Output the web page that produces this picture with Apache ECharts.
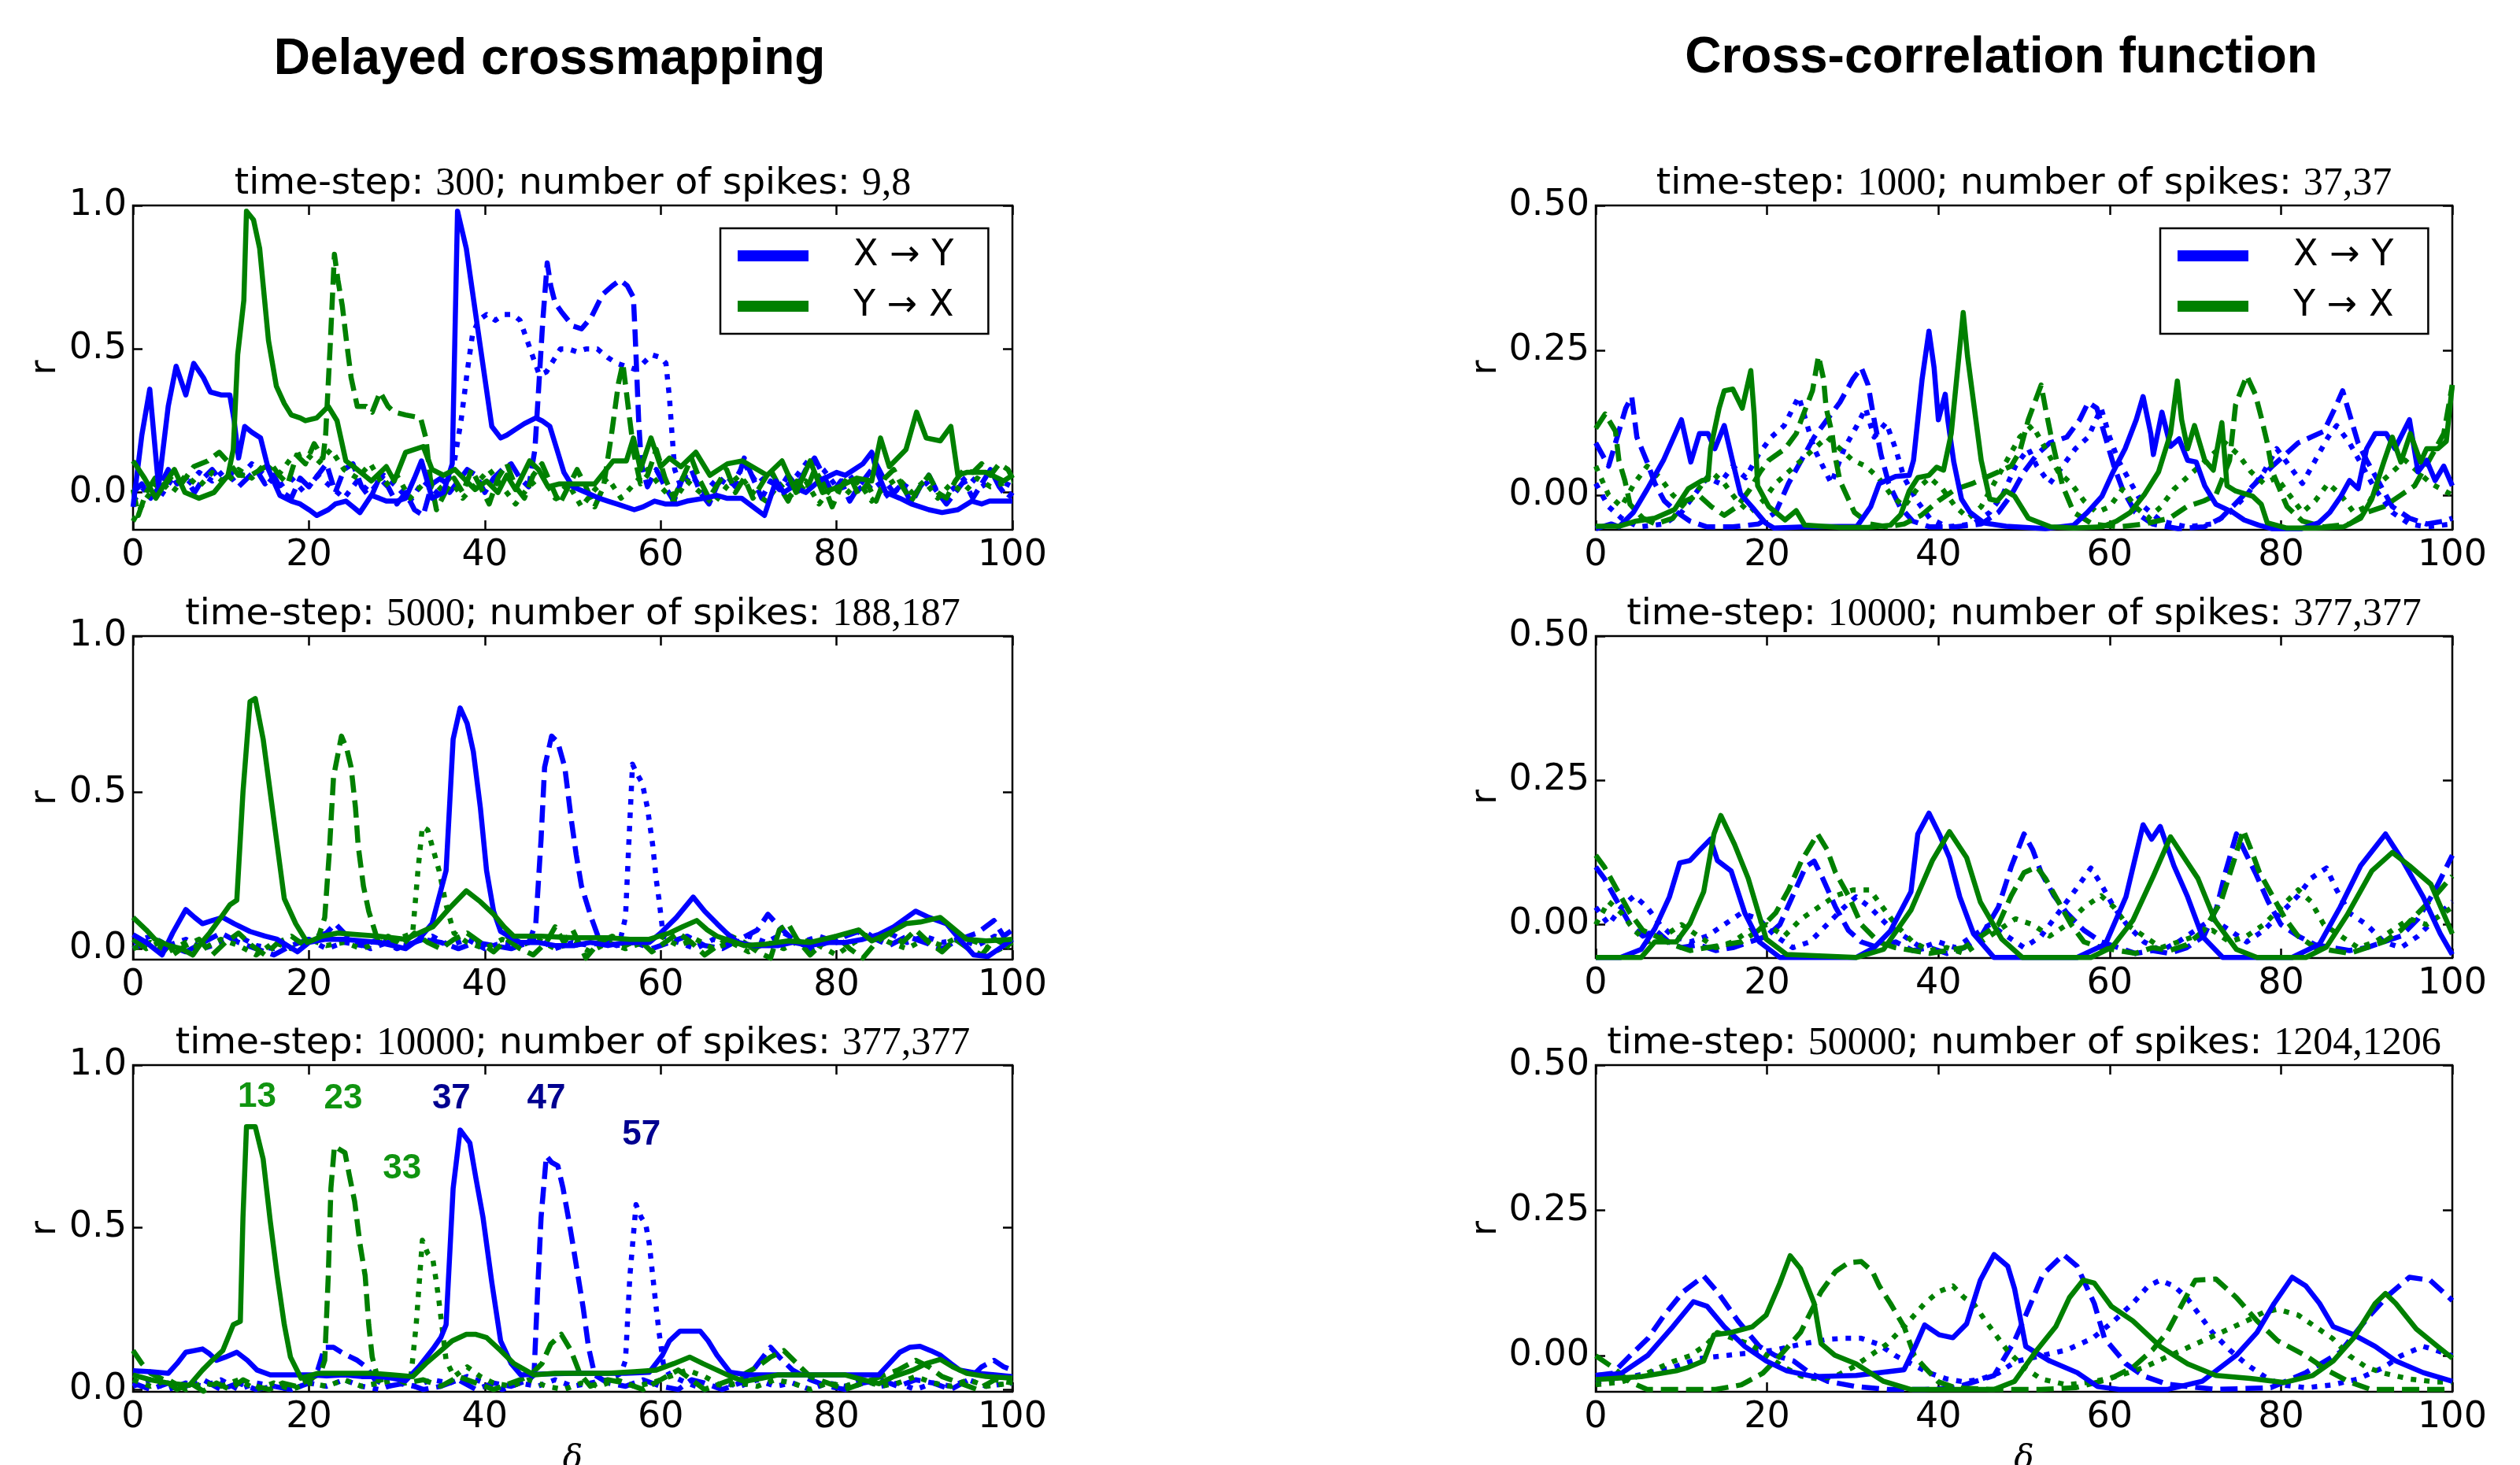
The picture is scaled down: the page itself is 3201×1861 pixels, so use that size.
<!DOCTYPE html>
<html lang="en">
<head>
<meta charset="UTF-8">
<title>Delayed crossmapping vs cross-correlation</title>
<script src="https://cdn.jsdelivr.net/npm/echarts@6/dist/echarts.min.js"></script>
<style>
  html, body { margin: 0; padding: 0; background: #fff; }
  #chart { width: 3201px; height: 1861px; }
</style>
</head>
<body>
<div id="chart"></div>
<script>
// ---- data: [lag, r] pairs ----
// left column: delayed crossmapping, time-step 300
const cm300XyS = [[0,-0.05],[1,0.2],[1.9,0.36],[2.9,0.02],[4,0.3],[4.9,0.44],[6,0.34],[6.9,0.45],[8,0.4],[8.8,0.35],[10,0.34],[11,0.34],[11.5,0.25],[12,0.12],[12.7,0.23],[13.5,0.21],[14.5,0.19],[15.4,0.08],[16.7,-0.01],[18,-0.03],[19,-0.04],[20,-0.06],[20.9,-0.08],[22.2,-0.06],[23,-0.04],[24.2,-0.03],[25,-0.05],[25.8,-0.07],[27.1,-0.01],[28,-0.02],[28.8,-0.03],[30,-0.03],[31,-0.02],[32,0.05],[32.8,0.11],[34,-0.02],[35.3,0.0],[36.3,0.1],[36.9,0.98],[37.9,0.85],[39.2,0.57],[40.8,0.23],[41.8,0.19],[42.5,0.2],[43.5,0.22],[44.5,0.24],[45.8,0.26],[46.5,0.25],[47.4,0.23],[48.2,0.15],[49,0.07],[50,0.02],[51.5,0.0],[53,-0.02],[54,-0.03],[55,-0.04],[57,-0.06],[58,-0.05],[59.3,-0.03],[60.5,-0.04],[61.9,-0.04],[63,-0.03],[65,-0.02],[66.4,-0.01],[67.5,-0.02],[69.2,-0.02],[70.5,-0.05],[71.8,-0.08],[73.1,0.04],[74,0.0],[75,0.02],[76.5,0.0],[78,0.04],[80,0.07],[81,0.06],[82,0.08],[83,0.1],[84,0.14],[84.5,0.08],[85.6,0.0],[87.2,-0.02],[88.5,-0.04],[90.5,-0.06],[92,-0.07],[93.8,-0.06],[95.4,-0.03],[96.5,-0.04],[97.4,-0.03],[100,-0.03]];
const cm300XyD = [[0,0.0],[1,0.03],[2,-0.02],[3,0.02],[4,0.08],[5,0.03],[6,0.05],[7,0.0],[8,0.05],[9,0.08],[10,0.04],[11,0.06],[12,0.02],[13,0.05],[14,0.08],[15,0.03],[16,0.06],[17,0.0],[18,-0.02],[19,0.05],[20,0.02],[21,0.06],[22,0.1],[23,0.0],[24,0.08],[25,0.1],[26,0.02],[27,-0.02],[28,0.05],[29,0.02],[30,-0.04],[31,0.0],[32,-0.06],[33,-0.08],[34,0.03],[35,0.05],[36,0.0],[37,0.04],[38,0.08],[39,0.06],[40,0.0],[41,0.05],[42,0.08],[43,0.1],[44,0.05],[45,0.02],[45.7,0.15],[46.2,0.4],[46.6,0.6],[47.1,0.8],[47.5,0.72],[48,0.66],[48.7,0.63],[50,0.58],[51,0.57],[52.1,0.61],[53.4,0.69],[54.5,0.72],[55.4,0.74],[56.2,0.72],[56.9,0.68],[57.1,0.55],[57.3,0.4],[57.5,0.25],[57.8,0.1],[58.5,0.02],[59.5,0.08],[60.5,0.02],[61.5,-0.03],[62.5,0.05],[63.5,0.08],[64.5,0.0],[65.5,-0.04],[66.5,0.03],[67.5,0.06],[68.5,0.02],[69.5,0.12],[70.5,0.05],[71.5,-0.02],[72.5,0.04],[73.5,0.01],[74.5,0.06],[75.5,0.02],[76.5,0.08],[77.5,0.12],[78.5,0.06],[79.5,0.0],[80.5,0.04],[81.5,-0.03],[82.5,0.02],[83.5,0.06],[84.5,0.1],[85.5,0.04],[86.5,0.0],[87.5,0.03],[88.5,-0.04],[89.5,0.02],[90.5,0.06],[91.5,0.0],[92.5,-0.04],[93.5,0.0],[94.5,0.04],[95.5,-0.02],[96.5,0.03],[97.5,0.08],[98.5,0.02],[99.5,-0.02],[100,0.0]];
const cm300XyT = [[0,-0.03],[1.5,0.02],[3,-0.02],[4.5,0.05],[6,0.02],[7.5,0.07],[9,0.04],[10.5,0.08],[12,0.05],[13.5,0.1],[15,0.06],[16.5,0.02],[18,0.05],[19.5,0.0],[21,0.06],[22.5,0.02],[24,-0.02],[25.5,0.04],[27,0.0],[28.5,0.06],[30,0.02],[31.5,-0.03],[33,0.04],[34.5,0.0],[35.8,0.05],[36.5,0.1],[37.3,0.25],[38,0.42],[38.6,0.55],[39.3,0.6],[40.2,0.62],[41.2,0.6],[42.2,0.62],[43.2,0.62],[44,0.6],[44.7,0.54],[45.5,0.47],[46.2,0.41],[47,0.42],[47.8,0.46],[48.6,0.5],[49.5,0.5],[50.5,0.49],[51.5,0.5],[52.8,0.5],[54,0.47],[55,0.45],[56,0.44],[57,0.43],[58,0.45],[59,0.48],[60,0.47],[60.6,0.45],[61,0.33],[61.3,0.2],[61.6,0.08],[62.3,0.02],[63.5,0.06],[65,0.0],[66.5,0.05],[68,0.02],[69.5,0.1],[71,0.03],[72.5,0.07],[74,0.01],[75.5,0.06],[77,0.12],[78.5,0.08],[80,0.02],[81.5,0.06],[83,0.0],[84.5,0.04],[86,-0.02],[87.5,0.03],[89,0.0],[90.5,0.04],[92,-0.02],[93.5,0.02],[95,0.06],[96.5,0.02],[98,0.05],[100,0.02]];
const cm300YxS = [[0,0.11],[1.3,0.05],[2.6,-0.02],[3.6,0.03],[4.7,0.08],[5.9,0.0],[7.5,-0.02],[9.2,0.0],[10.8,0.06],[11.4,0.15],[11.9,0.48],[12.6,0.67],[12.9,0.98],[13.7,0.95],[14.4,0.85],[15.4,0.53],[16.3,0.37],[17.2,0.31],[18,0.27],[19,0.26],[19.6,0.25],[20.9,0.26],[22.2,0.3],[23.2,0.25],[24.2,0.11],[25.5,0.08],[27.1,0.04],[28.8,0.09],[29.7,0.04],[31,0.14],[33,0.16],[34,0.08],[35.3,0.06],[36.6,0.08],[37.9,0.04],[38.9,0.01],[40.2,0.04],[41.5,0.0],[42.5,0.06],[43.5,0.01],[45.1,0.11],[46.1,0.08],[47.2,0.02],[48.5,0.03],[49.5,0.03],[52.5,0.03],[54.6,0.11],[56.1,0.11],[56.9,0.19],[57.7,0.08],[58.9,0.19],[60,0.09],[61,0.12],[62.3,0.09],[64,0.14],[65.6,0.06],[67.6,0.1],[69.3,0.11],[72.1,0.06],[73.8,0.11],[75.4,0.0],[77,0.11],[78.4,0.0],[80.3,0.02],[82.3,0.05],[84,0.04],[85,0.19],[86,0.09],[87.9,0.15],[89.1,0.28],[90.2,0.19],[91.8,0.18],[93,0.23],[93.8,0.06],[94.8,0.07],[97,0.07],[99,0.04],[100,0.06]];
const cm300YxD = [[0,0.01],[0.6,-0.08],[1.5,0.0],[2.5,0.05],[3.5,0.02],[4.5,0.06],[5.5,0.03],[6.9,0.09],[8.5,0.11],[9.8,0.14],[11,0.1],[12,0.06],[13.4,0.06],[14.5,0.08],[15.7,0.1],[16.6,0.06],[17.6,0.03],[18.6,0.13],[19.6,0.1],[20.6,0.17],[21.6,0.12],[21.9,0.2],[22.4,0.5],[22.9,0.83],[23.3,0.74],[23.8,0.65],[24.3,0.52],[24.8,0.4],[25.5,0.3],[26.5,0.3],[27.2,0.28],[28.1,0.35],[29,0.3],[29.7,0.28],[31,0.27],[32.7,0.26],[33.3,0.19],[33.8,0.05],[34.5,-0.06],[35.5,0.0],[36.5,0.05],[37.5,0.0],[38.5,0.08],[39.5,0.02],[40.5,-0.04],[41.5,0.05],[42.5,0.1],[43.5,0.02],[44.5,-0.02],[45.5,0.06],[46.5,0.1],[47.5,0.03],[48.5,-0.04],[49.5,0.02],[50.5,0.08],[51.5,0.02],[52.5,-0.05],[53.5,0.02],[54.4,0.2],[55.2,0.38],[55.7,0.45],[56.1,0.35],[56.5,0.25],[57,0.13],[57.7,0.03],[58.5,0.06],[59.5,0.15],[60.5,0.05],[61.5,-0.02],[62.5,0.05],[63.5,0.12],[64.5,0.04],[65.5,-0.02],[66.5,0.03],[67.5,0.08],[68.5,0.0],[69.5,0.05],[70.5,-0.02],[71.5,0.03],[72.5,0.08],[73.5,0.02],[74.5,-0.03],[75.5,0.04],[76.5,0.0],[77.5,0.08],[78.5,0.03],[79.5,-0.05],[80.5,0.02],[81.5,0.06],[82.5,-0.01],[83.5,0.03],[84.5,-0.03],[85.5,0.05],[86.5,0.08],[87.5,0.02],[88.5,-0.03],[89.5,0.02],[90.5,0.06],[91.5,0.0],[92.5,-0.02],[93.5,0.04],[94.5,0.08],[95.5,0.07],[96.5,0.1],[97.5,0.06],[98.5,0.1],[99.5,0.08],[100,0.05]];
const cm300YxT = [[0,-0.1],[1.5,-0.02],[3,0.04],[4.5,0.0],[6,0.06],[7.5,0.02],[9,0.07],[10.5,0.03],[12,0.08],[13.5,0.05],[15,0.1],[16.5,0.06],[18,0.12],[19.5,0.14],[21,0.1],[22.5,0.15],[24,0.08],[25.5,0.05],[27,0.1],[28.5,0.02],[30,0.06],[31.5,-0.02],[33,0.03],[34.5,0.0],[36,0.05],[37.5,-0.02],[39,0.03],[40.5,0.08],[42,0.02],[43.5,-0.04],[45,0.02],[46.5,0.06],[48,-0.02],[49.5,0.03],[51,-0.05],[52.5,0.01],[54,0.05],[55.5,-0.02],[57,0.03],[58.5,0.08],[60,0.02],[61.5,-0.03],[63,0.04],[64.5,0.0],[66,-0.04],[67.5,0.02],[69,0.06],[70.5,0.0],[72,-0.03],[73.5,0.03],[75,-0.02],[76.5,0.04],[78,-0.04],[79.5,0.02],[81,-0.01],[82.5,0.04],[84,-0.03],[85.5,0.02],[87,0.05],[88.5,0.0],[90,0.04],[91.5,-0.02],[93,0.03],[94.5,0.0],[96,0.05],[97.5,0.02],[100,0.04]];

// left column: time-step 5000
const cm5000XyS = [[0,0.045],[1.5,0.02],[3.3,-0.02],[4.5,0.05],[6,0.125],[7,0.1],[7.9,0.08],[9,0.09],[10.2,0.1],[11.5,0.08],[13.3,0.055],[15,0.04],[16.4,0.03],[18.7,-0.01],[20,0.02],[21.8,0.03],[24,0.03],[26,0.025],[27.9,0.02],[29.5,0.01],[31,0.0],[32.5,0.03],[34,0.08],[35.6,0.25],[36.4,0.67],[37.2,0.77],[38,0.72],[38.7,0.63],[39.5,0.45],[40.2,0.25],[41,0.12],[41.8,0.055],[44,0.02],[46,0.02],[48,0.01],[50.2,0.01],[52,0.02],[54,0.01],[56,0.02],[58.7,0.02],[60,0.05],[61.8,0.1],[63.7,0.165],[65,0.12],[66.4,0.08],[67.5,0.05],[68.8,0.02],[70.5,0.01],[73.4,0.01],[75,0.02],[77,0.01],[79,0.02],[81,0.02],[83,0.03],[84.8,0.045],[86.5,0.07],[89,0.12],[90.5,0.1],[92.5,0.08],[94,0.03],[95.6,-0.02],[97.2,-0.025],[98.5,0.0],[100,0.03]];
const cm5000XyD = [[0,0.0],[2,0.03],[4,0.01],[6,-0.01],[8,0.02],[10,0.05],[12,0.02],[14,0.0],[16,-0.02],[18,0.01],[20,0.03],[22,0.05],[23,0.08],[24,0.05],[25.5,0.02],[27,0.0],[29,0.02],[31,0.01],[33,0.03],[35,0.02],[37,0.0],[39,0.02],[41,0.01],[43,0.0],[45,0.02],[45.8,0.08],[46.4,0.35],[46.8,0.58],[47.6,0.68],[48.3,0.66],[49.1,0.58],[49.8,0.42],[50.4,0.3],[51,0.2],[52.1,0.1],[53,0.03],[55,0.01],[57,0.02],[59,0.0],[61,0.02],[63,0.04],[65,0.01],[67,0.0],[69,0.03],[71,0.06],[72.2,0.11],[73.5,0.07],[75,0.03],[77,0.0],[79,0.02],[81,0.04],[83,0.06],[84.5,0.03],[86,0.01],[88,0.04],[90,0.02],[92,0.0],[94,0.03],[96,0.05],[97.9,0.09],[99,0.04],[100,0.06]];
const cm5000XyT = [[0,0.02],[2,0.04],[4,0.01],[6,0.03],[8,0.0],[10,0.02],[12,0.04],[14,0.01],[16,0.0],[18,0.02],[20,0.03],[22,0.0],[24,0.02],[26,0.01],[28,0.03],[30,0.0],[32,0.02],[34,0.04],[36,0.01],[38,0.03],[40,0.0],[42,0.02],[44,0.01],[46,0.03],[48,0.0],[50,0.02],[52,0.01],[54,0.03],[55.5,0.04],[56,0.1],[56.4,0.35],[56.8,0.59],[57.3,0.56],[57.9,0.53],[58.5,0.45],[59.1,0.33],[59.5,0.22],[59.8,0.16],[60.3,0.04],[62,0.02],[64,0.0],[66,0.03],[68,0.01],[70,0.04],[72,0.02],[74,0.05],[76,0.02],[78,0.04],[80,0.02],[82,0.06],[84,0.03],[86,0.05],[88,0.02],[90,0.04],[92,0.02],[94,0.03],[96,0.01],[98,0.04],[100,0.02]];
const cm5000YxS = [[0,0.1],[1.5,0.06],[2.5,0.03],[4.1,0.01],[5.5,0.0],[6.8,-0.02],[7.8,0.02],[8.7,0.05],[10,0.1],[11,0.14],[11.8,0.155],[12.5,0.5],[13.3,0.79],[13.9,0.8],[14.8,0.67],[15.6,0.5],[16.4,0.33],[17.2,0.16],[18.5,0.08],[19.8,0.02],[21.5,0.04],[23.3,0.05],[25.5,0.045],[27.9,0.04],[29.5,0.035],[31,0.03],[32.5,0.05],[34.1,0.07],[36,0.13],[37.9,0.185],[39.5,0.15],[41,0.11],[42.2,0.07],[43.3,0.04],[46.4,0.04],[50,0.035],[54,0.035],[56.5,0.03],[58.7,0.03],[61,0.05],[62.5,0.07],[64.1,0.09],[65.3,0.06],[66.4,0.04],[69.5,0.01],[72,0.015],[74.5,0.025],[77,0.02],[80,0.04],[82.5,0.06],[84,0.025],[86,0.05],[87.9,0.08],[89.5,0.085],[91.8,0.1],[93.5,0.06],[94.8,0.03],[97,0.025],[100,0.03]];
const cm5000YxD = [[0,0.03],[1.5,0.0],[3,0.02],[4.5,-0.02],[6,0.01],[7.5,0.03],[9,-0.02],[10.5,0.02],[12,0.05],[13.5,0.01],[15,-0.02],[16.5,0.02],[18,0.04],[19.5,0.01],[21,0.03],[21.8,0.1],[22.3,0.3],[22.8,0.55],[23.7,0.68],[24.3,0.64],[24.8,0.58],[25.3,0.45],[25.6,0.33],[26.2,0.2],[26.8,0.12],[27.9,0.02],[29,0.04],[30.5,0.01],[32,0.05],[33.5,0.02],[35,0.0],[36.5,0.03],[38,0.05],[39.5,0.02],[41,-0.01],[42.5,0.03],[44,0.0],[45.5,-0.02],[47,0.02],[48,0.07],[49,0.02],[50,0.06],[51.5,-0.03],[53,0.02],[54.5,0.04],[56,0.01],[57.5,0.03],[59,-0.01],[60.5,0.02],[62,0.05],[63.5,0.02],[65,-0.02],[66.5,0.01],[68,0.04],[69.5,0.02],[71,-0.01],[72.5,-0.03],[73.5,0.06],[74.5,0.08],[75.5,0.03],[77,-0.02],[78.5,0.02],[80,0.04],[81.5,0.0],[83,-0.03],[84.5,0.02],[86,0.05],[87.5,0.02],[89,0.06],[90.5,0.02],[92,-0.01],[93.5,0.03],[95,0.0],[96.5,-0.02],[98,0.03],[100,0.0]];
const cm5000YxT = [[0,0.0],[2,0.02],[4,-0.01],[6,0.02],[8,0.0],[10,0.03],[12,0.01],[14,-0.02],[16,0.02],[18,0.0],[20,0.03],[22,0.01],[24,0.02],[26,0.0],[28,0.02],[30,0.03],[31.8,0.05],[32.4,0.25],[32.9,0.39],[33.5,0.38],[34.1,0.32],[34.8,0.25],[35.6,0.14],[36.5,0.05],[38,0.02],[40,0.0],[42,0.03],[44,0.01],[46,0.03],[48,0.0],[50,0.02],[52,-0.01],[54,0.02],[56,0.0],[58,0.02],[60,0.04],[62,0.01],[64,0.03],[66,0.0],[68,0.02],[70,-0.01],[72,0.02],[74,0.0],[76,0.03],[78,0.01],[80,-0.02],[82,0.02],[84,0.05],[86,0.02],[88,0.0],[90,0.03],[92,0.01],[94,0.04],[96,0.02],[98,-0.01],[100,0.02]];

// left column: time-step 10000
const cm10000XyS = [[0,0.058],[2,0.055],[4,0.05],[5,0.08],[6,0.115],[7,0.12],[7.9,0.125],[8.7,0.11],[9.5,0.09],[10.5,0.1],[11.8,0.115],[13,0.09],[14.1,0.06],[15.6,0.045],[18,0.045],[20.2,0.045],[22,0.042],[24,0.045],[26,0.04],[27.9,0.04],[29.5,0.035],[31,0.027],[32.5,0.07],[34.1,0.125],[35,0.16],[35.6,0.2],[36.4,0.62],[37.2,0.8],[38.3,0.76],[39,0.65],[39.8,0.53],[40.8,0.33],[41.8,0.15],[43,0.08],[44.1,0.045],[47,0.048],[50.2,0.05],[53,0.05],[56,0.05],[58.7,0.053],[60.2,0.106],[61,0.15],[62.2,0.18],[63.5,0.18],[64.5,0.18],[65.4,0.15],[66.4,0.106],[67.9,0.053],[70,0.045],[73,0.045],[77.2,0.045],[81,0.045],[84.8,0.045],[86,0.08],[87.2,0.115],[88.3,0.13],[89.5,0.133],[90.7,0.12],[91.8,0.106],[93,0.08],[94,0.06],[96,0.05],[98,0.045],[100,0.04]];
const cm10000XyD = [[0,0.02],[2,0.0],[4,0.02],[6,0.01],[8,0.03],[10,0.0],[12,0.02],[14,0.0],[16,0.01],[18,0.0],[20,0.02],[21,0.06],[21.8,0.13],[22.8,0.13],[24,0.11],[25.5,0.09],[26.5,0.07],[27.5,0.03],[29,0.01],[31,0.02],[33,0.0],[35,0.01],[37,0.03],[39,0.0],[41,0.02],[43,0.01],[45,0.03],[45.6,0.045],[46,0.3],[46.4,0.53],[47,0.72],[47.6,0.7],[48.3,0.69],[48.9,0.62],[49.5,0.53],[50,0.45],[50.6,0.35],[51.2,0.25],[51.8,0.13],[52.5,0.045],[54,0.02],[56,0.01],[58,0.03],[60,0.01],[62,0.0],[63.5,0.03],[65,0.02],[67,0.0],[69,0.02],[70.5,0.06],[72.5,0.13],[73.5,0.1],[75,0.06],[77,0.03],[79,0.01],[81,0.0],[83,0.02],[85,0.03],[87,0.01],[89,0.03],[91,0.02],[93,0.0],[95,0.03],[96.5,0.07],[97.9,0.09],[99,0.07],[100,0.06]];
const cm10000XyT = [[0,0.01],[2,0.03],[4,0.0],[6,0.02],[8,0.01],[10,0.03],[12,0.0],[14,0.02],[16,0.01],[18,0.0],[20,0.02],[22,0.01],[24,0.03],[26,0.01],[28,0.0],[30,0.02],[32,0.01],[34,0.03],[36,0.02],[38,0.04],[40,0.02],[42,0.0],[44,0.02],[46,0.01],[48,0.03],[50,0.01],[52,0.02],[54,0.03],[55.5,0.05],[56,0.09],[56.5,0.35],[57.2,0.57],[57.8,0.53],[58.3,0.51],[58.7,0.45],[59.1,0.35],[59.5,0.25],[59.8,0.18],[60.3,0.08],[61,0.045],[63,0.02],[65,0.0],[67,0.02],[69,0.01],[71,0.03],[73,0.01],[75,0.02],[77,0.0],[79,0.02],[81,0.01],[83,0.03],[85,0.01],[87,0.02],[89,0.0],[91,0.02],[93,0.01],[95,0.03],[97,0.01],[100,0.02]];
const cm10000YxS = [[0,0.045],[2,0.03],[4,0.02],[6.4,0.013],[7.9,0.06],[9,0.09],[10.2,0.12],[11.4,0.2],[12.2,0.21],[12.5,0.53],[12.9,0.81],[13.9,0.81],[14.8,0.71],[15.6,0.52],[16.4,0.35],[17.2,0.2],[17.9,0.1],[19.1,0.035],[21,0.05],[24,0.05],[27.2,0.05],[29.5,0.045],[31.8,0.04],[33.3,0.08],[34.8,0.115],[36.3,0.15],[37.9,0.17],[39,0.17],[40.2,0.16],[41.8,0.12],[43.3,0.08],[45.6,0.045],[48,0.05],[51,0.05],[54,0.05],[57,0.055],[59.5,0.06],[61.5,0.08],[63.3,0.1],[64.8,0.08],[66.4,0.06],[68,0.04],[69.5,0.025],[71.5,0.035],[73.3,0.045],[77,0.045],[81,0.045],[83,0.03],[84.8,0.018],[86.5,0.04],[88.7,0.06],[90.2,0.08],[91.8,0.093],[93.2,0.07],[94.8,0.05],[97,0.04],[100,0.035]];
const cm10000YxD = [[0,0.12],[1,0.08],[2,0.05],[3.5,0.03],[5,0.0],[6.5,0.02],[8,-0.005],[9.5,0.02],[11,0.0],[12.5,0.03],[14,0.01],[15.5,0.0],[17,0.02],[18.5,0.01],[20,0.03],[21.3,0.05],[21.8,0.09],[22.2,0.35],[22.5,0.62],[22.9,0.75],[23.5,0.74],[24.1,0.73],[24.6,0.66],[25.2,0.58],[25.8,0.45],[26.4,0.35],[26.8,0.2],[27.2,0.1],[27.9,0.027],[29.5,0.04],[31,0.02],[33,0.03],[35,0.01],[37,0.04],[39,0.02],[41,0.0],[43,0.02],[45,0.04],[46.5,0.08],[47.5,0.14],[48.7,0.17],[49.8,0.12],[50.8,0.05],[52,0.01],[54,0.03],[56,0.02],[58,0.0],[60,0.03],[62,0.06],[63.5,0.03],[65,0.0],[67,0.02],[69,0.04],[71,0.07],[72.5,0.1],[74,0.12],[75.5,0.08],[77,0.04],[79,0.02],[81,0.0],[83,0.02],[85,0.04],[87,0.06],[89,0.09],[90.5,0.07],[92,0.04],[94,0.02],[96,0.0],[98,0.03],[100,0.02]];
const cm10000YxT = [[0,0.03],[2,0.01],[4,0.03],[6,0.0],[8,0.02],[10,0.01],[12,0.03],[14,0.0],[16,0.02],[18,0.0],[20,0.02],[22,0.01],[24,0.03],[26,0.01],[28,0.02],[30,0.03],[31.6,0.04],[32.2,0.2],[32.9,0.46],[33.5,0.42],[34.1,0.4],[34.5,0.33],[34.8,0.27],[35.2,0.18],[35.6,0.09],[36.5,0.04],[38,0.07],[39.5,0.04],[41,0.02],[43,0.01],[45,0.03],[47,0.01],[49,0.0],[51,0.02],[53,0.01],[55,0.03],[57,0.01],[59,0.02],[61,0.04],[63,0.06],[65,0.04],[67,0.01],[69,0.02],[71,0.01],[73,0.03],[75,0.02],[77,0.0],[79,0.02],[81,0.01],[83,0.03],[85,0.01],[87,0.02],[89,0.04],[91,0.02],[93,0.01],[95,0.03],[97,0.01],[100,0.02]];

// right column: cross-correlation function, time-step 1000
const cc1000XyS = [[0,-0.058],[1.8,-0.05],[2.7,-0.055],[4.4,-0.03],[6,0.01],[7.9,0.06],[10,0.13],[11.1,0.057],[12.1,0.106],[13.1,0.106],[13.9,0.08],[15,0.12],[16,0.057],[16.9,0.002],[18.5,-0.025],[19.8,-0.048],[20.8,-0.057],[24.4,-0.055],[30.5,-0.054],[32.1,-0.02],[33.1,0.02],[35,0.032],[36.6,0.034],[37.1,0.06],[38.1,0.2],[38.9,0.283],[39.5,0.22],[40,0.13],[40.8,0.174],[41.1,0.13],[41.8,0.057],[42.7,-0.007],[43.7,-0.03],[45.3,-0.048],[47.9,-0.054],[52.5,-0.058],[55.8,-0.052],[57.4,-0.03],[59.1,-0.002],[60.4,0.04],[61.8,0.08],[63.1,0.13],[63.9,0.17],[64.8,0.106],[65.1,0.07],[66.1,0.143],[67.1,0.084],[68.1,0.097],[69.1,0.06],[70.1,0.057],[71.1,0.016],[72.4,-0.016],[74.4,-0.03],[75.7,-0.043],[77.4,-0.052],[79,-0.058],[82.4,-0.058],[84.4,-0.048],[85.7,-0.03],[87,-0.002],[88,0.025],[89,0.011],[90,0.08],[91,0.106],[92.3,0.106],[93.3,0.08],[95,0.13],[96,0.04],[97,0.06],[98,0.025],[99,0.05],[100,0.016]];
const cc1000XyD = [[0,0.09],[1.5,0.05],[2.5,0.1],[3.5,0.15],[4.2,0.17],[4.8,0.1],[6,0.057],[6.9,0.02],[8,-0.01],[9.5,-0.03],[11,-0.045],[13,-0.055],[16,-0.055],[19,-0.05],[21,-0.03],[22.5,0.02],[24,0.06],[25.5,0.1],[27,0.13],[28.5,0.16],[30,0.2],[31,0.22],[31.8,0.19],[32.5,0.13],[33.3,0.07],[34.2,0.02],[35.5,-0.02],[37,-0.045],[39,-0.055],[42,-0.055],[45,-0.05],[47,-0.03],[48.5,0.0],[50,0.04],[51.5,0.07],[53,0.09],[55,0.1],[56.5,0.13],[57.5,0.16],[58.5,0.15],[59.5,0.1],[60.5,0.05],[61.5,0.01],[63,-0.03],[65,-0.05],[68,-0.058],[71,-0.055],[73,-0.04],[75,-0.01],[77,0.02],[79,0.05],[80.5,0.07],[82,0.09],[83.5,0.1],[85,0.11],[86.3,0.15],[87.2,0.18],[88,0.14],[89,0.09],[90,0.06],[91.5,0.02],[93,-0.02],[95,-0.04],[97,-0.05],[99,-0.045],[100,-0.04]];
const cc1000XyT = [[0,0.02],[1.5,-0.02],[3,-0.04],[5,-0.055],[8,-0.05],[10,-0.03],[11.5,0.0],[13,0.03],[14.5,0.02],[16,0.05],[17.5,0.03],[19,0.07],[20.5,0.1],[22,0.12],[23.7,0.17],[24.5,0.13],[25.5,0.08],[26.5,0.05],[27.5,0.02],[29,0.08],[30.5,0.12],[31.5,0.15],[32.5,0.1],[33.9,0.125],[35,0.08],[36,0.03],[37.5,-0.01],[39,-0.04],[41,-0.055],[44,-0.05],[46,-0.03],[47.5,0.0],[49,0.05],[50.5,0.08],[51.5,0.05],[53,0.02],[54.5,0.05],[56,0.08],[57.5,0.1],[59,0.15],[60,0.1],[61,0.06],[62.5,0.02],[64,-0.02],[66,-0.045],[69,-0.055],[72,-0.05],[74,-0.03],[76,0.0],[78,0.04],[79.5,0.08],[81,0.05],[82.5,0.02],[84,0.06],[85.5,0.1],[86.5,0.12],[88,0.09],[89.5,0.05],[91,0.01],[93,-0.03],[95,-0.05],[97,-0.055],[100,-0.05]];
const cc1000YxS = [[0,-0.054],[2.7,-0.054],[4.7,-0.045],[6.9,-0.04],[9.2,-0.025],[10.8,0.011],[12.4,0.025],[13.1,0.027],[13.4,0.08],[14.4,0.15],[15,0.18],[16,0.183],[17.1,0.15],[18.1,0.215],[18.5,0.138],[18.9,0.016],[20.2,-0.02],[22.1,-0.043],[23.4,-0.027],[24.4,-0.052],[28.5,-0.056],[31.8,-0.056],[34.4,-0.052],[35.6,-0.034],[36.6,0.007],[37.6,0.03],[38.9,0.034],[39.8,0.048],[40.6,0.043],[41.5,0.106],[42.4,0.24],[42.9,0.315],[43.4,0.24],[44.2,0.15],[45,0.06],[46,-0.007],[46.9,-0.01],[47.9,0.007],[48.9,-0.002],[50.5,-0.04],[53.1,-0.055],[55.8,-0.057],[59.1,-0.055],[60.8,-0.045],[62.4,-0.03],[64.1,0.002],[65.7,0.04],[67.1,0.106],[67.9,0.197],[68.4,0.13],[69.1,0.08],[69.9,0.12],[71.1,0.06],[72.1,0.043],[73.1,0.125],[73.7,0.016],[74.7,0.007],[76.7,-0.002],[77.7,-0.016],[78.4,-0.048],[80.7,-0.057],[84,-0.057],[87.3,-0.055],[89.3,-0.04],[90.6,-0.007],[92,0.057],[93,0.1],[94,0.057],[95.1,0.106],[96.3,0.057],[97,0.08],[98.3,0.08],[99.3,0.093],[100,0.19]];
const cc1000YxD = [[0,0.115],[1.1,0.14],[2.3,0.11],[2.7,0.06],[3.4,0.025],[4,-0.016],[5.5,-0.04],[7,-0.05],[9,-0.04],[10.5,-0.01],[12,0.0],[13.5,-0.02],[15,-0.035],[16.5,-0.02],[18,0.01],[19.2,0.04],[20.2,0.06],[22.1,0.08],[23.4,0.106],[24,0.13],[25.3,0.18],[26,0.24],[26.6,0.2],[26.9,0.15],[27.6,0.106],[27.9,0.07],[28.5,0.025],[30.2,-0.03],[32,-0.05],[34,-0.055],[36,-0.05],[38,-0.035],[40,-0.01],[42,0.01],[44,0.02],[45.5,0.03],[47,0.04],[48.5,0.05],[49.5,0.075],[50.5,0.13],[52,0.19],[52.5,0.15],[53.1,0.106],[53.8,0.06],[54.5,0.016],[55.8,-0.03],[58,-0.05],[61,-0.055],[64,-0.05],[67,-0.04],[69,-0.02],[71,-0.01],[72.4,0.0],[74,0.06],[74.7,0.156],[76,0.206],[77,0.174],[77.7,0.134],[78.4,0.09],[79,0.04],[80.7,-0.02],[82.5,-0.045],[85,-0.055],[88,-0.05],[90,-0.03],[92,-0.02],[94,0.0],[95.6,0.016],[97.3,0.06],[99,0.106],[100,0.19]];
const cc1000YxT = [[0,0.05],[1.5,0.0],[3,-0.02],[4.5,0.02],[6,0.05],[7.5,0.03],[9,0.0],[10.5,-0.02],[12,0.01],[13.5,0.04],[15,0.02],[16.5,-0.01],[18,-0.03],[19.5,-0.01],[21,0.02],[22.5,0.04],[24,0.06],[25.5,0.08],[27,0.1],[28.5,0.08],[30,0.06],[31.5,0.05],[33,0.03],[34.5,0.0],[36,-0.02],[37.5,0.01],[39,0.03],[40.5,0.01],[42,-0.02],[43.5,-0.04],[45,-0.02],[46.5,0.02],[48,0.06],[49.5,0.1],[51,0.12],[52.5,0.08],[54,0.04],[55.5,0.02],[57,-0.01],[58.5,-0.03],[60,-0.02],[61.5,0.01],[63,-0.02],[64.5,-0.04],[66,-0.02],[67.5,0.01],[69,0.03],[70.5,0.05],[72,0.07],[73.5,0.09],[75,0.07],[76.5,0.04],[78,0.02],[79.5,0.03],[81,0.0],[82.5,-0.03],[84,-0.01],[85.5,0.02],[87,0.0],[88.5,-0.03],[90,-0.02],[91.5,0.02],[93,0.04],[94.5,0.06],[96,0.04],[97.5,0.02],[100,0.0]];

// right column: time-step 10000
const cc10000XyS = [[0,-0.057],[2.9,-0.057],[5.3,-0.043],[6.9,-0.007],[8.6,0.048],[9.8,0.107],[11,0.111],[12.2,0.13],[13.4,0.148],[14.2,0.111],[15.8,0.093],[17.4,0.02],[19.1,-0.03],[21.5,-0.057],[30.4,-0.057],[32.5,-0.04],[34.4,-0.011],[36.8,0.057],[37.6,0.157],[38.9,0.193],[40.1,0.157],[41.3,0.116],[42.5,0.048],[44.1,-0.016],[46.5,-0.057],[56.2,-0.057],[59.5,-0.034],[61.9,0.048],[63.9,0.173],[64.9,0.148],[65.9,0.17],[67.5,0.102],[69.1,0.048],[70.8,-0.02],[73.2,-0.057],[81.3,-0.057],[84.5,-0.034],[86.9,0.03],[89.3,0.102],[92.2,0.157],[94.2,0.111],[96.6,0.048],[98.6,-0.016],[100,-0.052]];
const cc10000XyD = [[0,0.1],[1,0.08],[2.5,0.04],[4,0.0],[5.5,-0.02],[7,-0.01],[8.5,-0.03],[10,-0.04],[12,-0.035],[14,-0.045],[16,-0.04],[18,-0.03],[20,-0.02],[21.5,0.0],[23,0.05],[24.5,0.1],[25.5,0.11],[26.5,0.08],[28,0.03],[29.5,-0.01],[31,-0.03],[33,-0.04],[35,-0.03],[37,-0.045],[39,-0.04],[41,-0.05],[43,-0.04],[45,-0.02],[47,0.03],[48.5,0.1],[50,0.157],[51,0.13],[52,0.09],[53.5,0.05],[55,0.02],[57,-0.01],[59,-0.03],[61,-0.04],[63,-0.05],[65,-0.045],[67,-0.05],[69,-0.04],[71,-0.02],[72.5,0.03],[73.5,0.09],[74.8,0.157],[76,0.12],[77,0.09],[78.5,0.04],[80,0.0],[82,-0.02],[84,-0.035],[86,-0.04],[88,-0.045],[90,-0.04],[92,-0.03],[94,-0.02],[96,0.01],[98,0.06],[100,0.12]];
const cc10000XyT = [[0,0.03],[1.5,0.0],[3,0.03],[4.5,0.05],[6,0.03],[7.5,0.0],[9,-0.02],[11,-0.03],[13,-0.02],[15,0.0],[17,0.02],[19,0.01],[21,-0.02],[23,-0.04],[25,-0.03],[27,0.0],[29,0.03],[30.4,0.048],[32,0.03],[34,0.0],[36,-0.02],[38,-0.04],[40,-0.03],[42,-0.04],[44,-0.02],[46,0.0],[48,-0.02],[50,-0.04],[52,-0.02],[54,0.02],[56,0.06],[57.8,0.098],[59,0.07],[60.5,0.03],[62,0.0],[64,-0.03],[66,-0.045],[68,-0.03],[70,-0.01],[72,0.01],[74,-0.01],[76,-0.03],[78,-0.01],[80,0.02],[82,0.05],[83.5,0.08],[85.3,0.098],[86.5,0.06],[88,0.02],[90,0.0],[92,-0.03],[94,-0.04],[96,-0.02],[98,0.01],[100,0.04]];
const cc10000YxS = [[0,-0.057],[5.3,-0.057],[6.9,-0.03],[9.4,-0.03],[11,0.002],[12.6,0.057],[13.8,0.157],[14.6,0.189],[16.2,0.139],[17.8,0.08],[19.9,-0.025],[22.3,-0.052],[30.4,-0.057],[33.6,-0.043],[36.8,0.025],[39.3,0.111],[41.3,0.161],[43.3,0.116],[44.9,0.039],[47.4,-0.025],[49.8,-0.057],[57.8,-0.057],[60.3,-0.039],[62.7,0.007],[65.1,0.084],[67.1,0.152],[68.7,0.116],[70.3,0.08],[72.3,0.007],[74.8,-0.043],[77.2,-0.057],[82.9,-0.057],[85.3,-0.039],[87.7,0.016],[90.6,0.093],[93,0.125],[95,0.102],[97.5,0.07],[100,-0.016]];
const cc10000YxD = [[0,0.12],[1,0.1],[2.5,0.06],[4,0.02],[5.5,-0.01],[7,-0.02],[9,-0.035],[11,-0.045],[13,-0.04],[15,-0.035],[17,-0.03],[19,-0.01],[21,0.02],[22.5,0.06],[24,0.11],[25.9,0.157],[27,0.13],[28,0.09],[29.5,0.05],[31,0.0],[33,-0.03],[35,-0.04],[37,-0.045],[39,-0.05],[41,-0.045],[43,-0.04],[45,-0.02],[47,0.0],[48.5,0.05],[50,0.09],[51.5,0.1],[52.5,0.08],[54,0.04],[55.5,0.0],[57,-0.03],[59,-0.04],[61,-0.045],[63,-0.05],[65,-0.04],[67,-0.045],[69,-0.035],[71,-0.01],[73,0.04],[74.5,0.11],[75.6,0.164],[76.5,0.13],[77.5,0.09],[79,0.05],[80.5,0.01],[82,-0.02],[84,-0.04],[86,-0.045],[88,-0.05],[90,-0.04],[92,-0.03],[94,-0.01],[96,0.02],[98,0.05],[100,0.084]];
const cc10000YxT = [[0,0.0],[1.5,0.04],[3,0.02],[4.5,-0.01],[6,-0.03],[8,-0.02],[10,0.0],[12,-0.02],[14,-0.04],[16,-0.03],[18,-0.01],[20,0.0],[22,-0.02],[24,0.01],[26,0.03],[28,0.05],[30,0.06],[32,0.06],[33.5,0.03],[35,0.0],[37,-0.03],[39,-0.045],[41,-0.04],[43,-0.05],[45,-0.03],[47,-0.01],[49,0.01],[51,0.0],[53,-0.02],[55,0.0],[57,0.03],[59,0.05],[60.5,0.03],[62,0.0],[64,-0.02],[66,-0.04],[68,-0.03],[70,-0.02],[72,-0.01],[74,-0.03],[76,-0.02],[78,0.0],[80,0.03],[82,0.06],[83.5,0.04],[85,0.0],[87,-0.02],[89,-0.04],[91,-0.03],[93,-0.01],[95,0.01],[97,0.0],[100,0.03]];

// right column: time-step 50000
const cc50000XyS = [[0,-0.034],[2.9,-0.031],[6.1,0.001],[9,0.05],[11.4,0.093],[13,0.085],[15,0.05],[17.4,0.016],[19.9,-0.009],[22.3,-0.026],[25.5,-0.036],[30.4,-0.034],[36,-0.024],[37.3,0.016],[38.4,0.053],[40.1,0.036],[41.7,0.031],[43.3,0.055],[44.9,0.13],[46.5,0.174],[48.1,0.154],[48.9,0.115],[50.2,0.016],[53,-0.009],[56.2,-0.029],[58.6,-0.053],[61.1,-0.058],[66.7,-0.058],[70.8,-0.044],[74.8,0.001],[77.2,0.04],[79.2,0.09],[81.3,0.135],[82.9,0.12],[84.5,0.09],[86.1,0.05],[88.5,0.036],[91,0.016],[93.4,-0.009],[96.6,-0.029],[100,-0.044]];
const cc50000XyD = [[0,-0.034],[2,-0.03],[4,0.0],[6.1,0.03],[8,0.07],[10.2,0.11],[12.6,0.137],[14.2,0.11],[16.6,0.06],[19.1,0.016],[21,0.0],[23.1,-0.009],[25,-0.03],[27.1,-0.044],[30.4,-0.053],[34,-0.058],[38.4,-0.058],[42,-0.055],[46.5,-0.034],[48.9,0.026],[50.5,0.08],[52.2,0.14],[54.6,0.174],[56.2,0.154],[58.2,0.09],[59.4,0.03],[61.9,-0.014],[64,-0.035],[66.7,-0.049],[72.4,-0.058],[78.8,-0.055],[82.9,-0.029],[86.9,0.006],[90.1,0.065],[92.6,0.105],[95,0.135],[97.4,0.13],[100,0.095]];
const cc50000XyT = [[0,-0.045],[3,-0.04],[6,-0.03],[9,-0.02],[12,-0.005],[15,0.0],[18,0.005],[21,0.01],[24,0.02],[27,0.028],[29,0.03],[31,0.03],[33,0.02],[35,0.0],[37,-0.015],[39,-0.03],[41,-0.04],[43,-0.045],[45,-0.04],[47,-0.03],[49,-0.01],[52,0.0],[55,0.01],[58,0.03],[60.5,0.06],[62.7,0.09],[64.5,0.12],[65.9,0.13],[67.5,0.12],[69,0.1],[70.5,0.07],[72,0.04],[74,0.01],[76,-0.015],[78,-0.035],[80,-0.05],[83,-0.055],[86,-0.05],[89,-0.04],[92,-0.02],[94,0.0],[96.6,0.016],[98,0.01],[100,0.0]];
const cc50000YxS = [[0,-0.041],[5.3,-0.036],[9.4,-0.026],[10.6,-0.021],[12.6,-0.009],[13.8,0.036],[15.8,0.04],[18.3,0.05],[19.9,0.07],[21.5,0.125],[22.7,0.172],[23.9,0.15],[25.5,0.09],[26.3,0.021],[27.9,0.001],[30.4,-0.014],[33.6,-0.044],[36.8,-0.058],[46.5,-0.058],[48.9,-0.044],[51.3,0.006],[53.7,0.05],[55.3,0.1],[56.9,0.13],[58.2,0.125],[60.2,0.085],[62.7,0.06],[65.9,0.016],[69.1,-0.014],[72.4,-0.034],[76.4,-0.039],[80.4,-0.046],[83.7,-0.034],[86.1,-0.009],[88.5,0.031],[91,0.09],[92.2,0.107],[93.4,0.09],[95.8,0.046],[98.3,0.016],[100,-0.004]];
const cc50000YxD = [[0,0.0],[2,-0.02],[4,-0.045],[6,-0.058],[10,-0.058],[14,-0.058],[17,-0.05],[19.5,-0.03],[21.5,0.0],[23.9,0.04],[26.3,0.11],[28,0.145],[29.5,0.16],[31,0.162],[32.3,0.145],[33.1,0.12],[34.4,0.09],[36,0.05],[37.2,0.0],[38.4,-0.02],[40,-0.045],[42,-0.055],[46,-0.058],[52,-0.058],[56,-0.055],[60,-0.04],[62.7,-0.02],[65,0.01],[66.7,0.04],[68.5,0.09],[70,0.13],[72.4,0.132],[74.8,0.1],[77.2,0.06],[79.6,0.026],[82.9,0.0],[85.3,-0.024],[88,-0.045],[90.5,-0.058],[94,-0.058],[100,-0.058]];
const cc50000YxT = [[0,-0.05],[3,-0.045],[6,-0.03],[9,-0.01],[11,0.0],[13,0.02],[14.2,0.04],[16,0.03],[18,0.02],[20,0.0],[22,-0.02],[24,-0.035],[26,-0.04],[28,-0.035],[30,-0.02],[32,0.0],[34,0.02],[36,0.05],[38.4,0.09],[40,0.11],[41.7,0.12],[43,0.1],[44.1,0.09],[45.5,0.06],[46.5,0.04],[48,0.01],[50,-0.02],[52,-0.04],[55,-0.05],[58,-0.045],[61,-0.035],[64,-0.02],[67,0.0],[70,0.02],[73,0.04],[76,0.06],[78,0.075],[79.6,0.08],[82,0.07],[84,0.05],[86,0.03],[88,0.0],[90,-0.02],[92,-0.03],[95,-0.04],[98,-0.045],[100,-0.045]];

// panel titles
const timeSteps = ['300', '5000', '10000', '1000', '10000', '50000'];
const spikeCounts = ['9,8', '188,187', '377,377', '37,37', '377,377', '1204,1206'];
const xTicks = [0, 20, 40, 60, 80, 100];
const cmYTicks = [0, 0.5, 1.0];
const ccYTicks = [0, 0.25, 0.5];

// peak annotations in the last crossmapping panel
const peakLabelText = ['13', '23', '33', '37', '47', '57'];
const peakLabelX = [14.1, 23.9, 30.6, 36.2, 47.0, 57.8];
const peakLabelY = [0.90, 0.895, 0.68, 0.895, 0.895, 0.785];
const peakLabelColor = ['#109410', '#109410', '#109410', '#000090', '#000090', '#000090'];

// ---- chart ----
const BLUE = '#0000ff';
const GREEN = '#008000';
const LW = 6.5;
const DASH = [22, 10];
const DOT = [7, 10];
const FONT = 'DejaVu Sans';

const panelData = [
  [cm300XyS, cm300XyD, cm300XyT, cm300YxS, cm300YxD, cm300YxT],
  [cm5000XyS, cm5000XyD, cm5000XyT, cm5000YxS, cm5000YxD, cm5000YxT],
  [cm10000XyS, cm10000XyD, cm10000XyT, cm10000YxS, cm10000YxD, cm10000YxT],
  [cc1000XyS, cc1000XyD, cc1000XyT, cc1000YxS, cc1000YxD, cc1000YxT],
  [cc10000XyS, cc10000XyD, cc10000XyT, cc10000YxS, cc10000YxD, cc10000YxT],
  [cc50000XyS, cc50000XyD, cc50000XyT, cc50000YxS, cc50000YxD, cc50000YxT]
];
const lineKinds = [
  { name: 'X → Y', color: BLUE, type: 'solid' },
  { name: 'X → Y (2)', color: BLUE, type: DASH },
  { name: 'X → Y (3)', color: BLUE, type: DOT },
  { name: 'Y → X', color: GREEN, type: 'solid' },
  { name: 'Y → X (2)', color: GREEN, type: DASH },
  { name: 'Y → X (3)', color: GREEN, type: DOT }
];

// plot areas (px)
const grids = [
  { left: 169, top: 261, width: 1117, height: 412 },
  { left: 169, top: 808, width: 1117, height: 411 },
  { left: 169, top: 1353, width: 1117, height: 415 },
  { left: 2027, top: 261, width: 1088, height: 412 },
  { left: 2027, top: 808, width: 1088, height: 409 },
  { left: 2027, top: 1353, width: 1088, height: 415 }
];
const yMins = [-0.13, -0.035, -0.007, -0.06, -0.058, -0.062];

const tickStyle = { color: '#000', width: 2.5 };
const xAxes = [], yAxes = [], series = [], titles = [];

grids.forEach((g, i) => {
  const isCM = i < 3;
  const yTicks = isCM ? cmYTicks : ccYTicks;
  const bottom = i === 2 || i === 5;
  xAxes.push({
    gridIndex: i, type: 'value', position: 'bottom', min: 0, max: 100, interval: 20,
    axisLine: { show: false, onZero: false },
    axisTick: { inside: true, length: 12, lineStyle: tickStyle },
    axisLabel: { fontFamily: FONT, fontSize: 46, color: '#000', margin: 10 },
    splitLine: { show: false },
    name: bottom ? 'δ' : '', nameLocation: 'middle', nameGap: 66,
    nameTextStyle: { fontFamily: 'DejaVu Serif', fontStyle: 'italic', fontSize: 42, color: '#000' }
  });
  yAxes.push({
    gridIndex: i, type: 'value', position: 'left', min: yMins[i], max: isCM ? 1.0 : 0.5,
    axisLine: { show: false, onZero: false },
    axisTick: { inside: true, length: 12, lineStyle: tickStyle, customValues: yTicks },
    axisLabel: {
      fontFamily: FONT, fontSize: 46, color: '#000', margin: 8, customValues: yTicks,
      formatter: v => v.toFixed(isCM ? 1 : 2)
    },
    splitLine: { show: false },
    name: 'r', nameLocation: 'middle', nameRotate: 90, nameGap: isCM ? 88 : 116,
    nameTextStyle: { fontFamily: FONT, fontSize: 46, color: '#000' }
  });

  panelData[i].forEach((d, k) => {
    const kind = lineKinds[k];
    series.push({
      type: 'line', name: kind.name, xAxisIndex: i, yAxisIndex: i,
      data: d, showSymbol: false, symbol: 'none', animation: false,
      lineStyle: { color: kind.color, width: LW, type: kind.type, cap: 'butt', join: 'round' },
      itemStyle: { color: kind.color },
      z: kind.type === 'solid' ? 3 : 2
    });
  });

  titles.push({
    text: `{s|time-step: }{n|${timeSteps[i]}}{s|; number of spikes: }{n|${spikeCounts[i]}}`,
    left: g.left + g.width / 2, top: g.top - 52, textAlign: 'center', padding: 0,
    textStyle: {
      fontWeight: 'normal',
      rich: {
        s: { fontFamily: FONT, fontSize: 47, fontWeight: 'normal', color: '#000' },
        n: { fontFamily: 'Liberation Serif', fontSize: 50, fontWeight: 'normal', color: '#000' }
      }
    }
  });
});

// mirrored ticks on top and right edges
grids.forEach((g, i) => {
  const isCM = i < 3;
  xAxes.push({
    gridIndex: i, type: 'value', position: 'top', min: 0, max: 100, interval: 20,
    axisLine: { show: false, onZero: false }, axisLabel: { show: false }, splitLine: { show: false },
    axisTick: { inside: true, length: 12, lineStyle: tickStyle }
  });
  yAxes.push({
    gridIndex: i, type: 'value', position: 'right', min: yMins[i], max: isCM ? 1.0 : 0.5,
    axisLine: { show: false, onZero: false }, axisLabel: { show: false }, splitLine: { show: false },
    axisTick: { inside: true, length: 12, lineStyle: tickStyle, customValues: isCM ? cmYTicks : ccYTicks }
  });
});

series.push({
  type: 'scatter', xAxisIndex: 2, yAxisIndex: 2, symbolSize: 1, silent: true, z: 10,
  itemStyle: { color: 'rgba(0,0,0,0)' },
  label: {
    show: true, position: 'inside', fontFamily: 'Liberation Sans', fontWeight: 'bold', fontSize: 44,
    textBorderWidth: 0, textShadowBlur: 0
  },
  data: peakLabelText.map((t, j) => ({
    value: [peakLabelX[j], peakLabelY[j]],
    label: { formatter: t, color: peakLabelColor[j], opacity: 1 }
  }))
});

titles.push(
  { text: 'Delayed crossmapping', left: 698, top: 44, textAlign: 'center', padding: 0,
    textStyle: { fontFamily: 'Liberation Sans', fontWeight: 'bold', fontSize: 64, color: '#000' } },
  { text: 'Cross-correlation function', left: 2542, top: 42, textAlign: 'center', padding: 0,
    textStyle: { fontFamily: 'Liberation Sans', fontWeight: 'bold', fontSize: 64, color: '#000' } }
);

const legendBase = {
  orient: 'vertical', top: 290, data: ['X → Y', 'Y → X'], selectedMode: false,
  icon: 'rect', itemWidth: 90, itemHeight: 14, itemGap: 18,
  padding: [12, 44, 12, 22], borderColor: '#000', borderWidth: 2.5, backgroundColor: '#fff',
  textStyle: { fontFamily: FONT, fontSize: 46, color: '#000', padding: [0, 0, 0, 52] }
};

const chart = echarts.init(document.getElementById('chart'));
chart.setOption({
  animation: false,
  backgroundColor: '#fff',
  textStyle: { fontFamily: FONT },
  title: titles,
  legend: [
    Object.assign({}, legendBase, { left: 915 }),
    Object.assign({}, legendBase, { left: 2744 })
  ],
  grid: grids.map(g => Object.assign({
    show: true, borderColor: '#000', borderWidth: 2.5, backgroundColor: 'transparent',
    containLabel: false, outerBoundsMode: 'none'
  }, g)),
  xAxis: xAxes,
  yAxis: yAxes,
  series: series
});
</script>
</body>
</html>
